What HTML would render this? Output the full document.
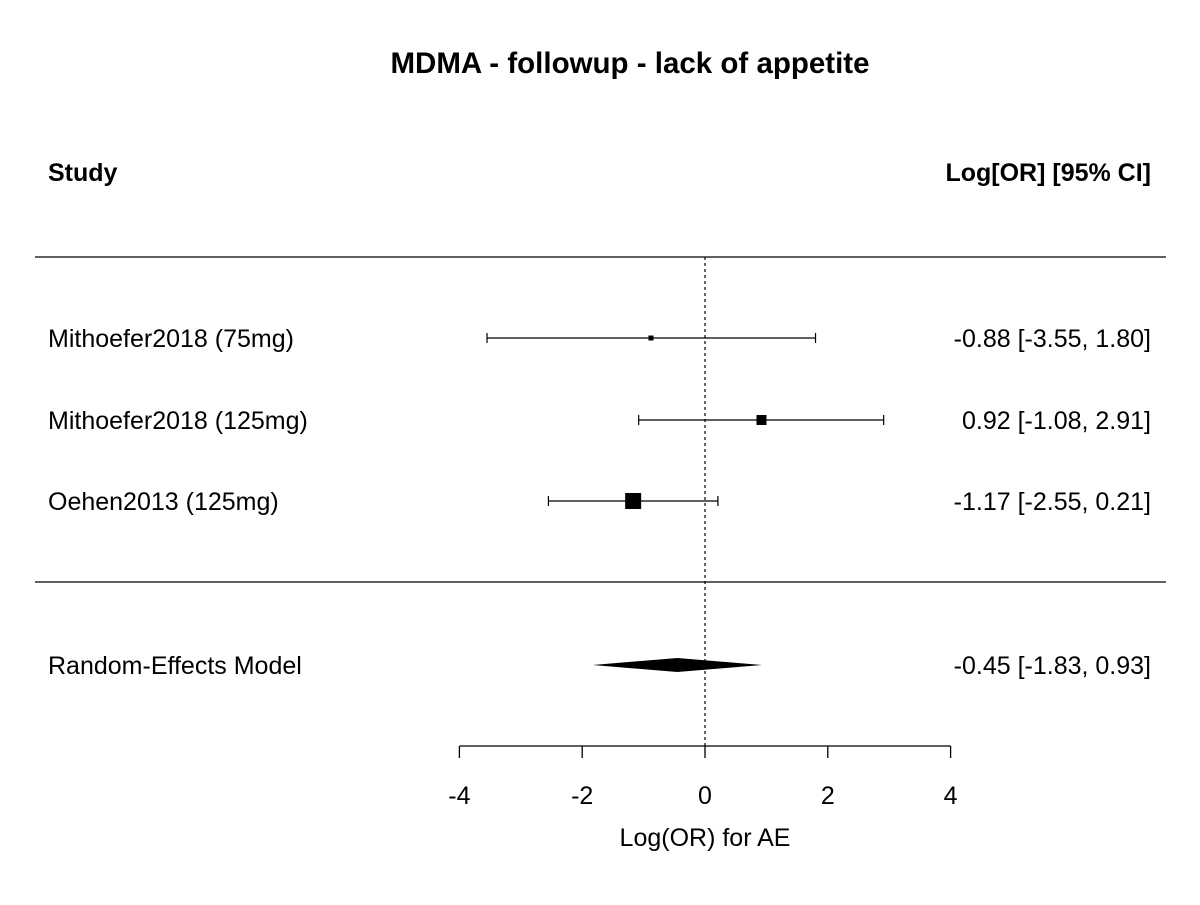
<!DOCTYPE html>
<html><head><meta charset="utf-8"><style>
body{margin:0;background:#fff}
svg text{font-family:"Liberation Sans",Arial,sans-serif;fill:#000}
</style></head><body>
<svg width="1200" height="900" viewBox="0 0 1200 900">
<text x="630" y="73" font-size="29.5" font-weight="bold" text-anchor="middle">MDMA - followup - lack of appetite</text>
<text x="48" y="181" font-size="25" font-weight="bold">Study</text>
<text x="1151" y="181" font-size="25" font-weight="bold" text-anchor="end">Log[OR] [95% CI]</text>
<line x1="35" x2="1166" y1="257" y2="257" stroke="#000" stroke-width="1.3"/>
<line x1="35" x2="1166" y1="582" y2="582" stroke="#000" stroke-width="1.3"/>
<g id="plot"></g>
</svg>
<script>
const studies=["Mithoefer2018 (75mg)","Mithoefer2018 (125mg)","Oehen2013 (125mg)"];
const est=[-0.88,0.92,-1.17];
const lo=[-3.55,-1.08,-2.55];
const hi=[1.80,2.91,0.21];
const boxSize=[5,10,16];
const reEst=-0.45, reLo=-1.83, reHi=0.93;
const ticks=[-4,-2,0,2,4];
const xs=v=>705+v*61.4;
const rowY=[338,420,501];
const NS="http://www.w3.org/2000/svg";
const g=document.getElementById('plot');
function mk(t,a){const e=document.createElementNS(NS,t);for(const k in a)e.setAttribute(k,a[k]);g.appendChild(e);return e;}
const fmt=v=>v.toFixed(2);
let z=mk('line',{x1:xs(0),x2:xs(0),y1:257,y2:746,stroke:'#000','stroke-width':1.2,'stroke-dasharray':'3,3'});


studies.forEach((s,i)=>{
  const y=rowY[i];
  let t=mk('text',{x:48,y:y+9,'font-size':25});t.textContent=s;
  
  
  let l=mk('line',{x1:xs(lo[i]),x2:xs(hi[i]),y1:y,y2:y,stroke:'#000','stroke-width':1.2});
  
  
  [lo[i],hi[i]].forEach(v=>{let c=mk('line',{x1:xs(v),x2:xs(v),y1:y-5,y2:y+5,stroke:'#000','stroke-width':1.2});
    
    });
  const b=boxSize[i];
  let r=mk('rect',{x:xs(est[i])-b/2,y:y-b/2,width:b,height:b,fill:'#000'});
  
  
  let e=mk('text',{x:1151,y:y+9,'font-size':25,'text-anchor':'end'});
  e.textContent=fmt(est[i])+' ['+fmt(lo[i])+', '+fmt(hi[i])+']';
  
  
});
const dy=665;
let t=mk('text',{x:48,y:dy+9,'font-size':25});t.textContent='Random-Effects Model';


let d=mk('polygon',{points:`${xs(reLo)},${dy} ${xs(reEst)},${dy-7} ${xs(reHi)},${dy} ${xs(reEst)},${dy+7}`,fill:'#000'});


let me=mk('text',{x:1151,y:dy+9,'font-size':25,'text-anchor':'end'});
me.textContent=fmt(reEst)+' ['+fmt(reLo)+', '+fmt(reHi)+']';


let ax=mk('line',{x1:xs(ticks[0]),x2:xs(ticks[ticks.length-1]),y1:746,y2:746,stroke:'#000','stroke-width':1.3});


ticks.forEach(v=>{
  let k=mk('line',{x1:xs(v),x2:xs(v),y1:746,y2:758,stroke:'#000','stroke-width':1.3});
  
  
  let l=mk('text',{x:xs(v),y:804,'font-size':25,'text-anchor':'middle'});l.textContent=v;
  
  
});
let xt=mk('text',{x:705,y:846,'font-size':25,'text-anchor':'middle'});xt.textContent='Log(OR) for AE';


</script>
</body></html>
